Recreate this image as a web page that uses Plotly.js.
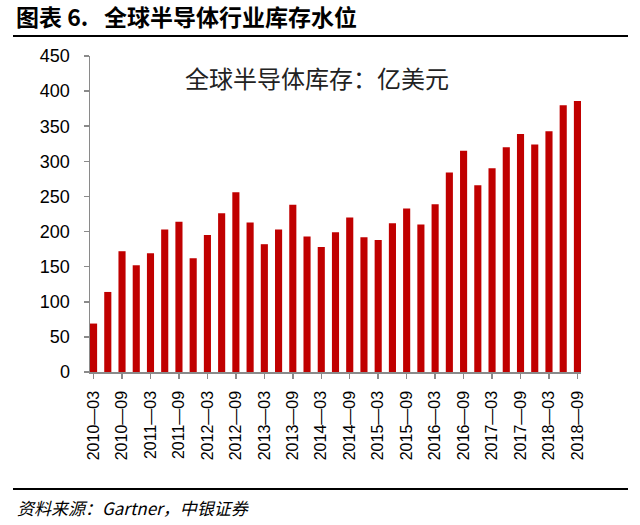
<!DOCTYPE html>
<html>
<head>
<meta charset="utf-8">
<script src="https://cdn.plot.ly/plotly-3.0.1.min.js"></script>
<style>
  html, body { margin: 0; padding: 0; background: #fff; }
  #chart { width: 640px; height: 525px; }
</style>
</head>
<body>
<div id="chart"></div>
<script>
// quarterly inventory, 100M USD
const quarters = [
  "2010-03", "2010-06", "2010-09", "2010-12",
  "2011-03", "2011-06", "2011-09", "2011-12",
  "2012-03", "2012-06", "2012-09", "2012-12",
  "2013-03", "2013-06", "2013-09", "2013-12",
  "2014-03", "2014-06", "2014-09", "2014-12",
  "2015-03", "2015-06", "2015-09", "2015-12",
  "2016-03", "2016-06", "2016-09", "2016-12",
  "2017-03", "2017-06", "2017-09", "2017-12",
  "2018-03", "2018-06", "2018-09"
];
const inventory = [
  69, 114, 172, 152,
  169, 203, 214, 162,
  195, 226, 256, 213,
  182, 203, 238, 193,
  178, 199, 220, 192,
  188, 212, 233, 210,
  239, 284, 315, 266,
  290, 320, 339, 324,
  343, 380, 386
];
const tickCats = quarters.filter((q, i) => i % 2 === 0);
const tickLabels = tickCats.map(q => q.replace("-", "—"));
const yTicks = [0, 50, 100, 150, 200, 250, 300, 350, 400, 450];

const L = 90, R = 59, T = 56, B = 153;
const W = 640, H = 525;
const px = x => (x - L) / (W - L - R);
const py = y => (H - B - y) / (H - T - B);

const trace = {
  type: "bar",
  x: quarters,
  y: inventory,
  width: 0.5,
  marker: { color: "#c00000" },
  hoverinfo: "x+y",
};

const axisColor = "#8a8a8a";

const layout = {
  width: W,
  height: H,
  margin: { l: L, r: R, t: T, b: B },
  paper_bgcolor: "#fff",
  plot_bgcolor: "#fff",
  showlegend: false,
  bargap: 0.5,
  font: { family: "Liberation Sans, Arial, sans-serif", color: "#000" },
  xaxis: {
    type: "category",
    range: [-0.25, 34.25],
    tickmode: "array",
    tickvals: tickCats,
    ticktext: tickLabels,
    tickangle: -90,
    ticks: "outside",
    ticklen: 5,
    tickcolor: axisColor,
    tickwidth: 1.5,
    showline: true,
    linecolor: axisColor,
    linewidth: 1.5,
    showgrid: false,
    zeroline: false,
    tickfont: { size: 16, color: "#000" },
    ticklabelstandoff: 6,
    fixedrange: true,
  },
  yaxis: {
    range: [0, 450],
    tickmode: "array",
    tickvals: yTicks,
    ticks: "outside",
    ticklen: 5,
    tickcolor: axisColor,
    tickwidth: 1.5,
    showline: true,
    linecolor: axisColor,
    linewidth: 1.5,
    showgrid: false,
    zeroline: false,
    tickfont: { size: 18, color: "#000" },
    ticklabelstandoff: 10,
    fixedrange: true,
  },
  shapes: [
    { type: "line", xref: "paper", yref: "paper",
      x0: px(13), x1: px(628), y0: py(36), y1: py(36),
      line: { color: "#000", width: 2 } },
    { type: "line", xref: "paper", yref: "paper",
      x0: px(13), x1: px(628), y0: py(489), y1: py(489),
      line: { color: "#000", width: 2 } },
  ],
  annotations: [
    { xref: "paper", yref: "paper", x: px(14), y: py(16),
      xanchor: "left", yanchor: "middle", showarrow: false,
      text: "<b>图表 6.&nbsp;&nbsp;&nbsp;全球半导体行业库存水位</b>",
      font: { family: "Noto Sans CJK SC, sans-serif", size: 23, color: "#000" } },
    { xref: "paper", yref: "paper", x: px(317), y: py(77),
      xanchor: "center", yanchor: "middle", showarrow: false,
      text: "全球半导体库存：亿美元",
      font: { family: "Noto Sans CJK SC, sans-serif", size: 24, color: "#222" } },
    { xref: "paper", yref: "paper", x: px(15), y: py(507),
      xanchor: "left", yanchor: "middle", showarrow: false,
      text: "<i>资料来源：Gartner，中银证券</i>",
      font: { family: "Noto Sans CJK SC, sans-serif", size: 17, color: "#000" } },
  ],
};

Plotly.newPlot("chart", [trace], layout, { displayModeBar: false, staticPlot: true });
</script>
</body>
</html>
